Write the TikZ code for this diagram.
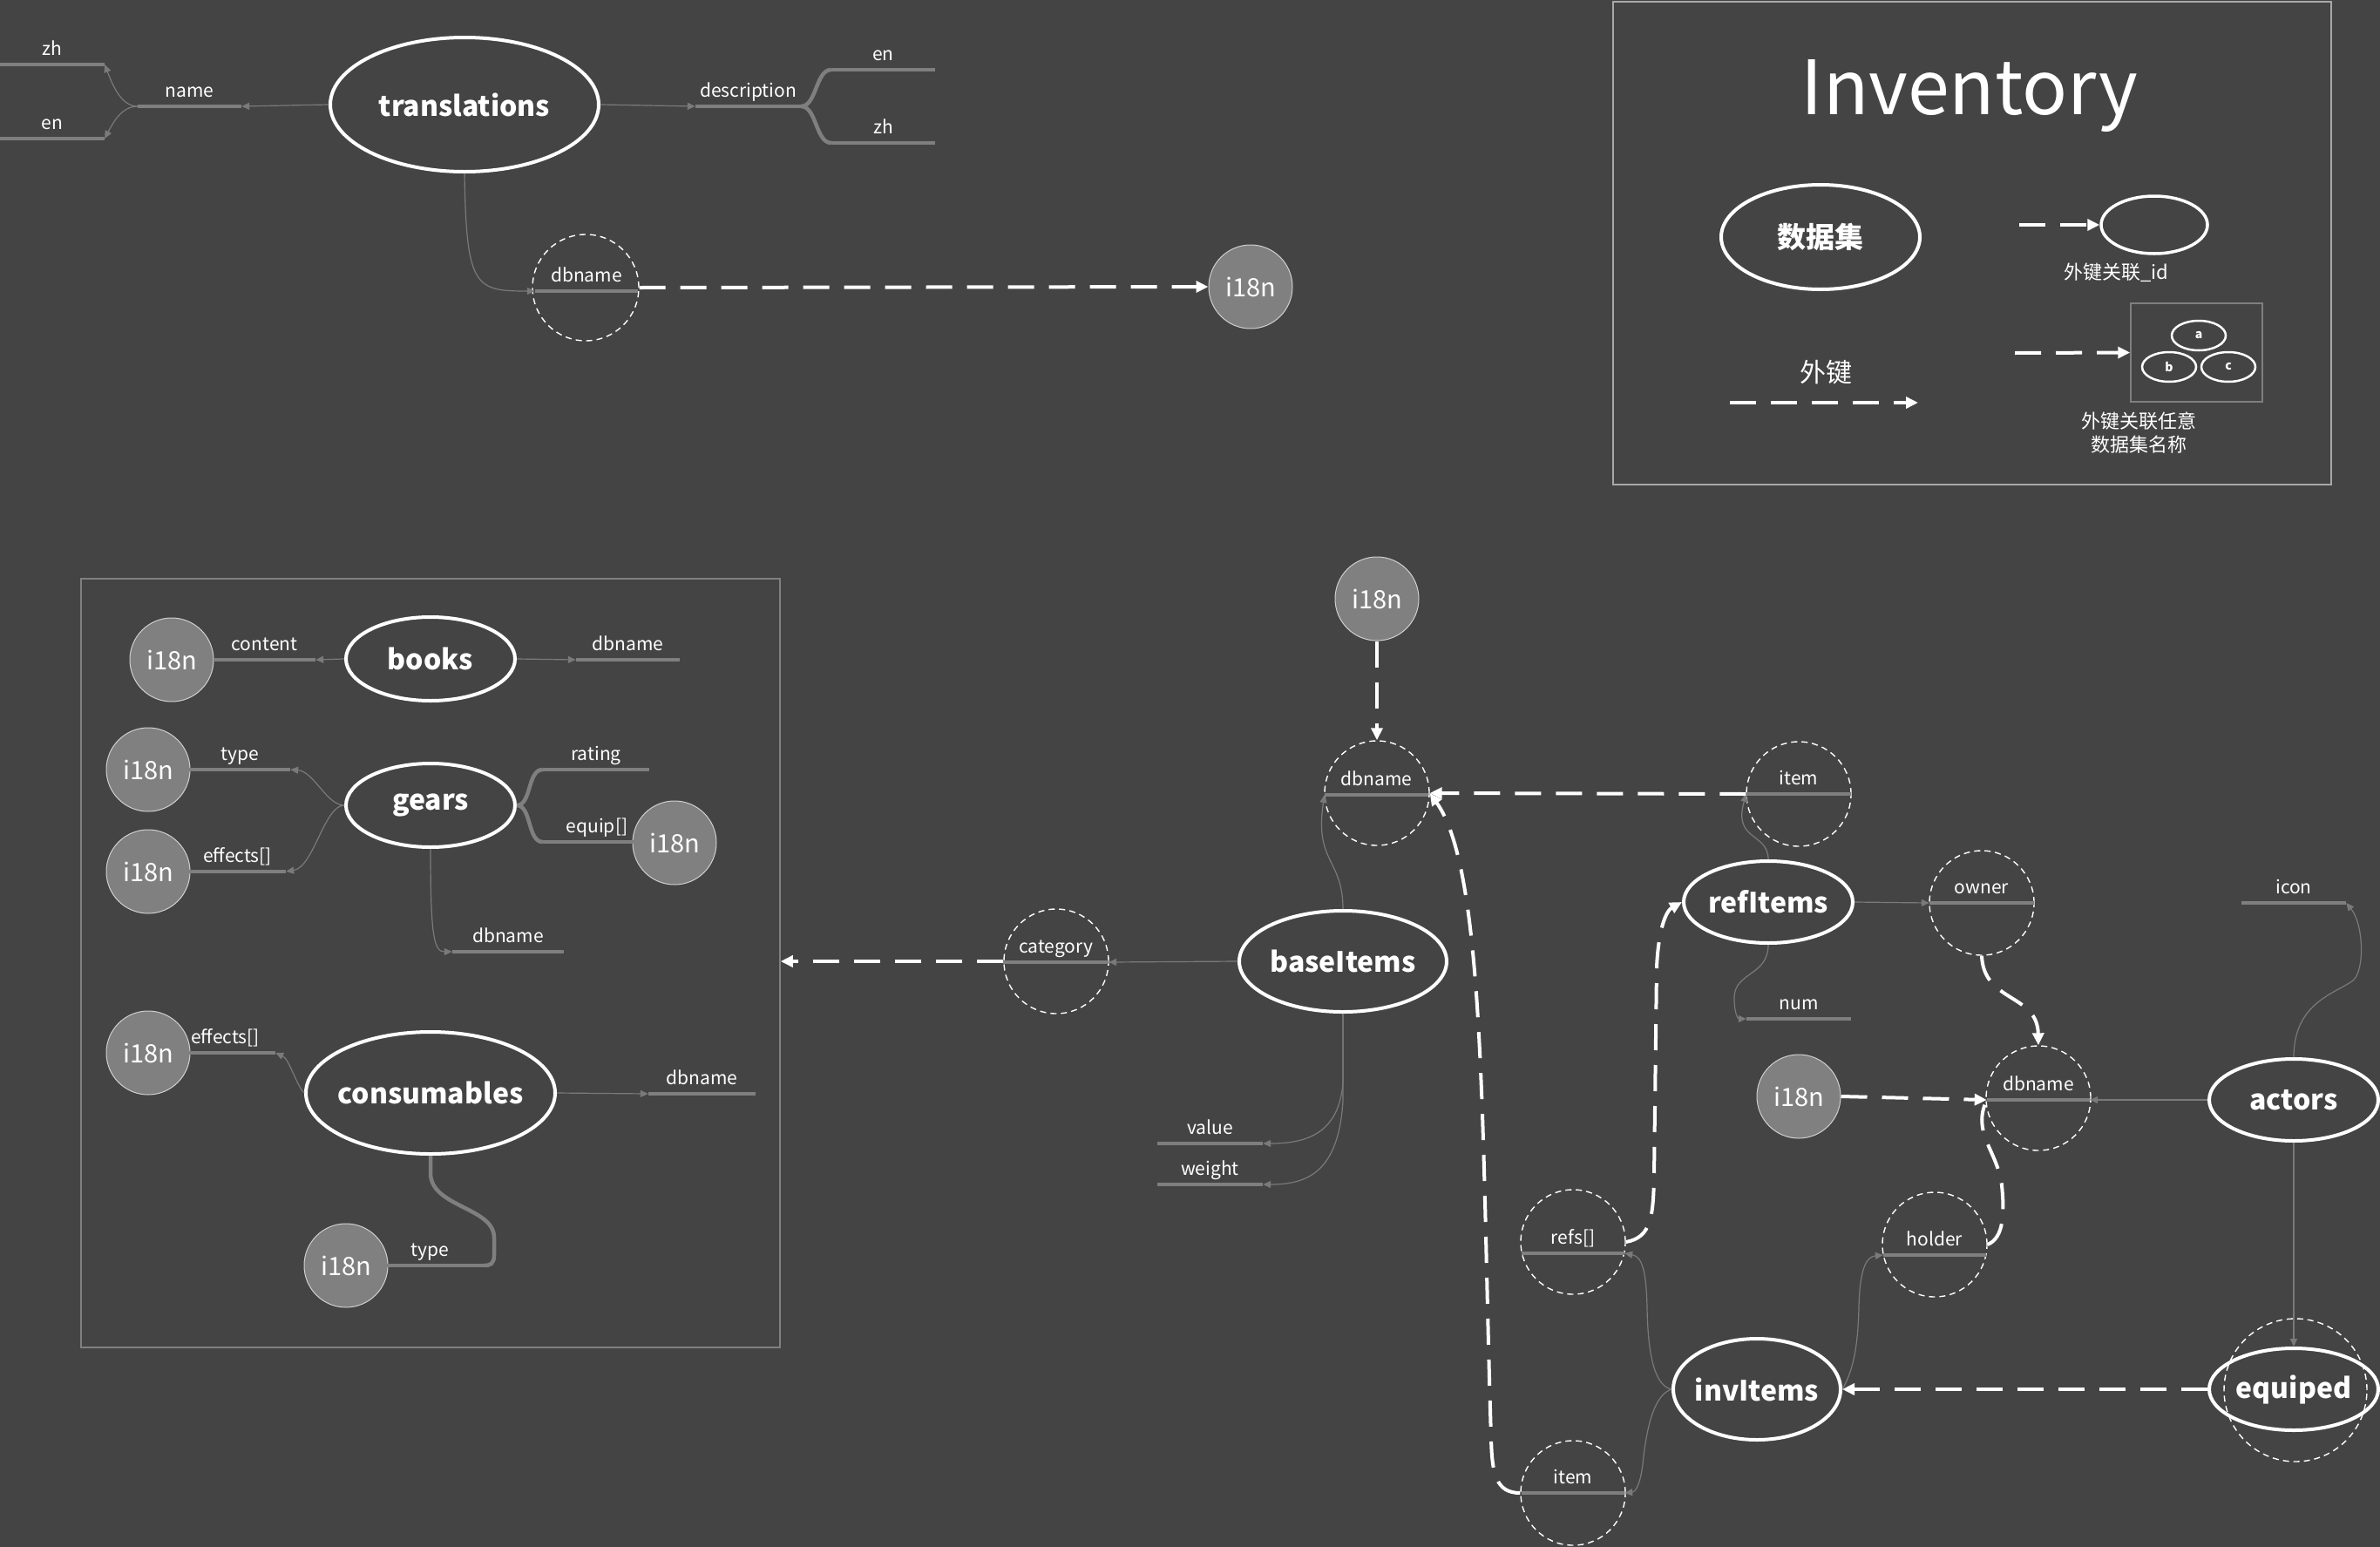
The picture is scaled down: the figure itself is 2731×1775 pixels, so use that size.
\documentclass[tikz,border=0pt]{standalone}
\usepackage{fontspec}
\setmainfont{Noto Sans CJK SC}
\usetikzlibrary{shapes.geometric,arrows.meta}
\newcommand{\myfs}[1]{\fontsize{#1pt}{#1pt}\selectfont}
\newcommand{\zw}[1]{\makebox[0pt]{#1}}
\definecolor{bg}{HTML}{444444}
\definecolor{barc}{HTML}{7F7F7F}
\definecolor{connc}{HTML}{7A7A7A}
\definecolor{intlfill}{HTML}{808080}
\definecolor{intlline}{HTML}{D0D0D0}
\definecolor{boxc}{HTML}{808080}
\definecolor{legc}{HTML}{A8A8A8}
\tikzset{
  ent/.style={ellipse, draw=white, line width=4pt, text=white, font=\bfseries\myfs{32}, inner sep=0pt},
  fkc/.style={circle, draw=white, line width=1.4pt, dash pattern=on 7pt off 5pt, minimum size=120pt, inner sep=0pt},
  intl/.style={circle, fill=intlfill, draw=intlline, line width=1pt, minimum size=96pt, inner sep=0pt, text=white, font=\myfs{29}},
  fld/.style={anchor=south, inner sep=0pt, minimum height=32pt, text height=15pt, text depth=4pt, text=white, font=\myfs{21}},
  fbar/.style={draw=barc, line width=4.5pt},
  fcurve/.style={draw=barc, line width=4.5pt},
  conn/.style={draw=connc, line width=1.2pt, -{Triangle[length=9pt,width=8pt]}},
  fkl/.style={draw=white, line width=4pt, dash pattern=on 30pt off 17pt, -{Triangle[length=14pt,width=13pt]}},
}
\begin{document}
\begin{tikzpicture}[x=1pt,y=-1pt]
\useasboundingbox (0,0) rectangle (2731,1775);
\fill[bg] (0,0) rectangle (2731,1775);

% ---------- translations ----------
\node[ent, minimum width=308pt, minimum height=154pt] (translations) at (533,120) {\zw{translations}};
\node[fld, minimum width=119pt] (fName) at (217.5,122) {name};
\node[fld, minimum width=120pt] (fZh1) at (60,74) {zh};
\node[fld, minimum width=120pt] (fEn1) at (60,159) {en};
\node[fld, minimum width=121pt] (fDesc) at (858.5,122) {description};
\node[fld, minimum width=119pt] (fEn2) at (1013.5,80) {en};
\node[fld, minimum width=119pt] (fZh2) at (1013.5,164) {zh};
\node[fkc, minimum size=122pt] (fkA) at (672,330) {};
\node[fld, minimum width=118pt] (fDbA) at (673,334) {dbname};
\node[intl] (iA) at (1435,329) {i18n};

% ---------- legend ----------
\node[draw=legc, line width=1.5pt, minimum width=824pt, minimum height=554pt, inner sep=0pt] (legend) at (2263,279) {};
\node[text=white, font=\myfs{86}, anchor=base, inner sep=0pt] (title) at (2260,131) {Inventory};
\node[ent, minimum width=228pt, minimum height=120pt, font=\bfseries\myfs{33}] (legDS) at (2089,272) {\zw{数据集}};
\node[ellipse, draw=white, line width=3.5pt, minimum width=122pt, minimum height=66pt] (legE) at (2472,258) {};
\coordinate (legA1) at (2317,258);
\node[text=white, font=\myfs{22}] (legT1) at (2428,313) {外键关联\_id};
\node[text=white, font=\myfs{30}] (legT2) at (2095,427) {外键};
\coordinate (legA2s) at (1985,462);
\coordinate (legA2e) at (2201,462);
\node[draw=barc, line width=1.5pt, minimum width=151pt, minimum height=113pt, inner sep=0pt] (legBox) at (2520.5,404.5) {};
\coordinate (legA3) at (2312,405);
\node[ellipse, draw=white, line width=2.5pt, minimum width=62pt, minimum height=34pt, inner sep=0pt, text=white, font=\bfseries\myfs{14}] (legSa) at (2523,385) {a};
\node[ellipse, draw=white, line width=2.5pt, minimum width=62pt, minimum height=34pt, inner sep=0pt, text=white, font=\bfseries\myfs{14}] (legSb) at (2489,421) {b};
\node[ellipse, draw=white, line width=2.5pt, minimum width=62pt, minimum height=34pt, inner sep=0pt, text=white, font=\bfseries\myfs{14}] (legSc) at (2557,421) {c};
\node[text=white, font=\fontsize{22pt}{27pt}\selectfont, align=center] (legT3) at (2454,497) {外键关联任意\\数据集名称};

% ---------- left box ----------
\node[draw=boxc, line width=1.5pt, minimum width=802pt, minimum height=882pt, inner sep=0pt] (leftbox) at (494,1105) {};
\node[ent, minimum width=194pt, minimum height=96pt] (books) at (494,756) {\zw{books}};
\node[intl] (iB1) at (197,757) {i18n};
\node[fld, minimum width=117pt] (fContent) at (303.5,757) {content};
\node[fld, minimum width=119pt] (fBkDb) at (720.5,757) {dbname};

\node[ent, minimum width=194pt, minimum height=96pt] (gears) at (494,924) {\zw{gears}};
\node[intl] (iG1) at (170,883) {i18n};
\node[fld, minimum width=116pt] (fGType) at (275,883) {type};
\node[intl] (iG2) at (170,1000) {i18n};
\node[fld, minimum width=111pt] (fGEff) at (272.5,1000) {effects[]};
\node[fld, minimum width=122pt] (fRating) at (684,883) {rating};
\node[fld, minimum width=104pt] (fEquip) at (675,966) {\hspace*{20pt}equip[]};
\node[intl] (iG3) at (774,967) {i18n};
\node[fld, minimum width=128pt] (fGDb) at (583,1092) {dbname};

\node[ent, minimum width=286pt, minimum height=140pt] (cons) at (494,1254) {\zw{consumables}};
\node[intl] (iC1) at (170,1208) {i18n};
\node[fld, minimum width=99pt] (fCEff) at (266.5,1208) {effects[]\hspace*{16pt}};
\node[fld, minimum width=123pt] (fCDb) at (805.5,1255) {dbname};
\node[fld, minimum width=111pt] (fCType) at (499.5,1452) {type\hspace*{12pt}};
\node[intl] (iC2) at (397,1452) {i18n};

% ---------- middle ----------
\node[intl] (iM1) at (1580,687) {i18n};
\node[fkc] (fkDb) at (1580,910) {};
\node[fld, minimum width=119pt] (fDbB) at (1579.5,912) {dbname};
\node[ent, minimum width=238pt, minimum height=116pt] (base) at (1541,1103) {\zw{baseItems}};
\node[fkc] (fkCat) at (1212,1103) {};
\node[fld, minimum width=121pt] (fCat) at (1211.5,1104) {category};
\node[fld, minimum width=121pt] (fValue) at (1388.5,1312) {value};
\node[fld, minimum width=121pt] (fWeight) at (1388.5,1359) {weight};

% ---------- right ----------
\node[fkc] (fkItem1) at (2064,911) {};
\node[fld, minimum width=120pt] (fItem1) at (2064,911) {item};
\node[ent, minimum width=194pt, minimum height=94pt] (refItems) at (2029,1035) {\zw{refItems}};
\node[fkc] (fkOwner) at (2274,1036) {};
\node[fld, minimum width=120pt] (fOwner) at (2274,1036) {owner};
\node[fld, minimum width=120pt] (fNum) at (2064,1169) {num};
\node[intl] (iR1) at (2064,1258) {i18n};
\node[fkc] (fkDb2) at (2339,1260) {};
\node[fld, minimum width=118pt] (fDb2) at (2339,1262) {dbname};
\node[ent, minimum width=194pt, minimum height=94pt] (actors) at (2632,1262) {\zw{actors}};
\node[fld, minimum width=120pt] (fIcon) at (2632,1036) {icon};
\node[fkc, minimum size=164pt] (fkEq) at (2634,1595) {};
\node[ent, minimum width=194pt, minimum height=94pt] (equiped) at (2632,1594) {\zw{equiped}};
\node[ent, minimum width=192pt, minimum height=116pt] (invItems) at (2016,1594) {\zw{invItems}};
\node[fkc] (fkRefs) at (1805,1425) {};
\node[fld, minimum width=118pt] (fRefs) at (1805,1438) {refs[]};
\node[fkc] (fkItem2) at (1805,1713) {};
\node[fld, minimum width=118pt] (fItem2) at (1805,1713) {item};
\node[fkc] (fkHolder) at (2220,1428) {};
\node[fld, minimum width=118pt] (fHolder) at (2220,1440) {holder};

% ---------- field bars ----------
\foreach \n in {fName,fZh1,fEn1,fDesc,fEn2,fZh2,fDbA,fContent,fBkDb,fGType,fGEff,fRating,fEquip,fGDb,fCEff,fCDb,fCType,fDbB,fCat,fValue,fWeight,fItem1,fOwner,fNum,fDb2,fIcon,fRefs,fItem2,fHolder}
  \draw[fbar] (\n.south west) -- (\n.south east);

% ---------- thin connectors ----------
\draw[conn] (translations.west) -- (fName.south east);
\draw[conn] (fName.south west) .. controls (140,122) and (130,100) .. (fZh1.south east);
\draw[conn] (fName.south west) .. controls (140,122) and (130,140) .. (fEn1.south east);
\draw[conn] (translations.east) -- (fDesc.south west);
\draw[conn] (translations.south) .. controls (535,330) and (545,334) .. (fDbA.south west);

\draw[conn] (books.west) -- (fContent.south east);
\draw[conn] (books.east) -- (fBkDb.south west);
\draw[conn] (gears.west) .. controls (375,924) and (360,885) .. (fGType.south east);
\draw[conn] (gears.west) .. controls (372,924) and (360,995) .. (fGEff.south east);
\draw[conn] (gears.south) .. controls (494,1075) and (498,1092) .. (fGDb.south west);
\draw[conn] (cons.west) .. controls (340,1245) and (332,1215) .. (fCEff.south east);
\draw[conn] (cons.east) -- (fCDb.south west);

\draw[conn] (base.north) .. controls (1541,985) and (1508,990) .. (fDbB.south west);
\draw[conn] (base.west) -- (fCat.south east);
\draw[conn] (base.south) -- ++(0,80) .. controls (1536,1300) and (1500,1312) .. (fValue.south east);
\draw[conn] (base.south) -- ++(0,100) .. controls (1536,1345) and (1500,1359) .. (fWeight.south east);

\draw[conn] (refItems.north) .. controls (2029,955) and (1988,965) .. (fItem1.south west);
\draw[conn] (refItems.east) -- (fOwner.south west);
\draw[conn] (refItems.south) .. controls (2029,1120) and (1990,1115) .. (1990,1145) .. controls (1990,1162) and (1994,1169) .. (fNum.south west);
\draw[conn] (actors.west) -- (fDb2.south east);
\draw[conn] (actors.north) .. controls (2632,1150) and (2680,1140) .. (2700,1125) .. controls (2714,1113) and (2712,1060) .. (fIcon.south east);
\draw[conn] (actors.south) -- (equiped.north);
\draw[conn] (invItems.west) .. controls (1900,1590) and (1891,1560) .. (1890,1500) .. controls (1889,1460) and (1885,1442) .. (fRefs.south east);
\draw[conn] (invItems.west) .. controls (1900,1600) and (1890,1630) .. (1885,1680) .. controls (1882,1705) and (1876,1712) .. (fItem2.south east);
\draw[conn] (invItems.east) .. controls (2128,1570) and (2132,1540) .. (2133,1500) .. controls (2134,1460) and (2140,1442) .. (fHolder.south west);

% ---------- thick grey branches ----------
\draw[fcurve] (fDesc.south east) .. controls (937,122) and (936,80) .. (fEn2.south west);
\draw[fcurve] (fDesc.south east) .. controls (937,122) and (936,164) .. (fZh2.south west);
\draw[fcurve] (gears.east) .. controls (610,924) and (605,883) .. (fRating.south west);
\draw[fcurve] (gears.east) .. controls (610,924) and (605,966) .. (fEquip.south west);
\draw[fcurve] (cons.south) -- ++(0,20) .. controls (494,1385) and (567,1385) .. (567,1420) -- (567,1440) .. controls (567,1450) and (563,1452) .. (fCType.south east);

% ---------- foreign keys ----------
\draw[fkl] (fkA.east) -- (iA.west);
\draw[fkl] (legA1) -- (legE.west);
\draw[fkl] (legA2s) -- (legA2e);
\draw[fkl] (legA3) -- (legBox.west);
\draw[fkl] (iM1.south) -- (fkDb.north);
\draw[fkl] (fkCat.west) -- (fkCat.west -| leftbox.east);
\draw[fkl] (fkItem1.west) -- (fkDb.east);
\draw[fkl] (fkItem2.west) .. controls (1716,1713) and (1712,1690) .. (1711,1650) .. controls (1700,1300) and (1705,1000) .. (fkDb.east);
\draw[fkl] (fkRefs.east) .. controls (1895,1420) and (1897,1395) .. (1898,1350) -- (1901,1110) .. controls (1903,1065) and (1912,1045) .. (refItems.west);
\draw[fkl] (fkOwner.south) .. controls (2276,1150) and (2338,1140) .. (fkDb2.north);
\draw[fkl] (iR1.east) -- (fDb2.south west);
\draw[fkl, -] (fkHolder.east) .. controls (2300,1420) and (2300,1390) .. (2297,1360) .. controls (2292,1320) and (2262,1300) .. (fDb2.south west);
\draw[fkl] (equiped.west) -- (invItems.east);
\end{tikzpicture}
\end{document}
